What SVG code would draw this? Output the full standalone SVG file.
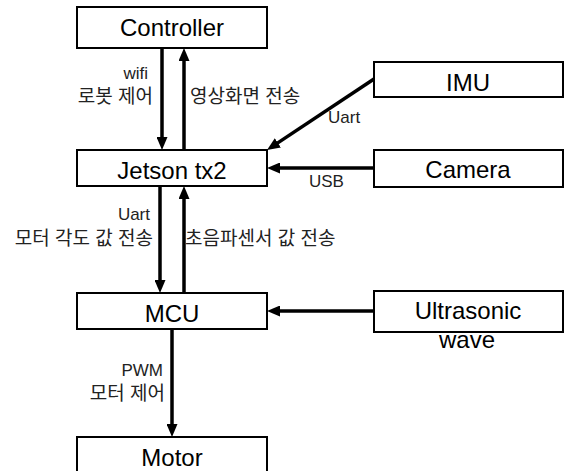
<svg xmlns="http://www.w3.org/2000/svg" width="565" height="471" viewBox="0 0 565 471">
<style>
.box{fill:#fff;stroke:#000;stroke-width:2}
.t{font-family:"Liberation Sans","Noto Sans CJK KR",sans-serif;font-size:24px;fill:#000;text-anchor:middle}
.l{font-family:"Liberation Sans","Noto Sans CJK KR",sans-serif;font-size:17px;fill:#222}
.k{font-size:19px}
.e{text-anchor:end}
.c{fill:none;stroke:#000;stroke-width:3.5}
</style>
<defs>
<marker id="ah" markerUnits="userSpaceOnUse" markerWidth="13" markerHeight="11" viewBox="0 0 13 11" refX="1" refY="5.5" orient="auto">
<path d="M0,0 L13,5.5 L0,11 z" fill="#000"/>
</marker>
</defs>
<rect width="565" height="471" fill="#fff"/>
<g id="connectors">
<line class="c" x1="162" y1="48" x2="162" y2="138" marker-end="url(#ah)"/>
<line class="c" x1="184" y1="150" x2="184" y2="60" marker-end="url(#ah)"/>
<line class="c" x1="374" y1="79" x2="277" y2="143.4" marker-end="url(#ah)"/>
<line class="c" x1="374" y1="168" x2="279" y2="168" marker-end="url(#ah)"/>
<line class="c" x1="160" y1="186" x2="160" y2="281" marker-end="url(#ah)"/>
<line class="c" x1="184" y1="293" x2="184" y2="198" marker-end="url(#ah)"/>
<line class="c" x1="374" y1="311" x2="279" y2="311" marker-end="url(#ah)"/>
<line class="c" x1="172" y1="329" x2="172" y2="425" marker-end="url(#ah)"/>
<text class="l e" x="148" y="79">wifi</text>
<text class="l k e" x="153" y="103">로봇 제어</text>
<text class="l k" x="190" y="103">영상화면 전송</text>
<text class="l" x="328" y="123">Uart</text>
<text class="l" x="309" y="187">USB</text>
<text class="l e" x="150" y="220">Uart</text>
<text class="l k e" x="153" y="245">모터 각도 값 전송</text>
<text class="l k" x="185" y="245">초음파센서 값 전송</text>
<text class="l e" x="163" y="376">PWM</text>
<text class="l k e" x="165" y="400">모터 제어</text>
</g>
<g id="controller"><rect class="box" x="77" y="7" width="190" height="41"/><text class="t" x="172" y="36">Controller</text></g>
<g id="jetson"><rect class="box" x="77" y="150" width="190" height="36"/><text class="t" x="172" y="179">Jetson tx2</text></g>
<g id="imu"><rect class="box" x="374" y="62" width="189" height="35"/><text class="t" x="468" y="91">IMU</text></g>
<g id="camera"><rect class="box" x="374" y="150" width="189" height="37"/><text class="t" x="468" y="178">Camera</text></g>
<g id="mcu"><rect class="box" x="77" y="293" width="190" height="36"/><text class="t" x="172" y="322">MCU</text></g>
<g id="ultrasonic"><rect class="box" x="374" y="291" width="189" height="41"/><text class="t" x="468" y="319">Ultrasonic</text><text class="t" x="467" y="348">wave</text></g>
<g id="motor"><rect class="box" x="77" y="437" width="190" height="50"/><text class="t" x="172" y="466">Motor</text></g>
</svg>
